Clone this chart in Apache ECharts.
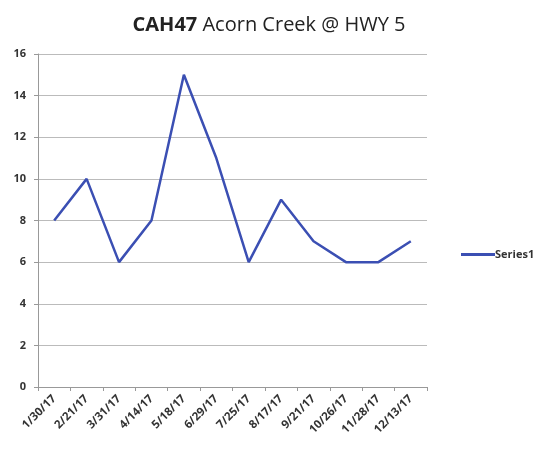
<!DOCTYPE html>
<html>
<head>
	<meta charset="UTF-8">
	<title></title>
	<script src="https://cdn.jsdelivr.net/npm/echarts@6/dist/echarts.min.js"></script>
	<style>
		html, body{
			width: 100%;
			height: 100%;
			padding: 0;
			margin: 0;
			background: #fff;
		}
		#main{
			width: 538px;
			height: 458px;
		}
	</style>
</head>
<body>
	<div id="main"></div>
</body>
<script>
	// 数据
	let dates = ['1/30/17', '2/21/17', '3/31/17', '4/14/17', '5/18/17', '6/29/17',
		'7/25/17', '8/17/17', '9/21/17', '10/26/17', '11/28/17', '12/13/17'];
	let series1 = [8, 10, 6, 8, 15, 11, 6, 9, 7, 6, 6, 7];
	let yTicks = [0, 2, 4, 6, 8, 10, 12, 14, 16];

	let myChart = echarts.init(document.getElementById('main'));

	myChart.setOption({
		animation: false,
		title: {
			text: '{b|CAH47} Acorn Creek @ HWY 5',
			left: 'center',
			top: 10,
			textStyle: {
				fontFamily: 'Open Sans',
				fontSize: 20,
				fontWeight: 'normal',
				color: '#222',
				rich: {
					b: {fontFamily: 'Open Sans', fontSize: 20, fontWeight: 'bold', color: '#222'}
				}
			}
		},
		legend: {
			data: ['Series1'],
			orient: 'vertical',
			left: 456,
			top: 244,
			itemWidth: 34,
			itemHeight: 3,
			icon: 'rect',
			itemGap: 4,
			textStyle: {fontFamily: 'Open Sans', fontSize: 11, fontWeight: 'bold', color: '#333', padding: [0, 0, 0, -5]}
		},
		grid: {
			left: 38,
			right: 111,
			top: 54,
			bottom: 71,
			containLabel: false
		},
		xAxis: {
			type: 'category',
			data: dates,
			boundaryGap: true,
			axisLine: {lineStyle: {color: '#999', width: 1}},
			axisTick: {show: true, alignWithLabel: false, length: 4, lineStyle: {color: '#999'}},
			axisLabel: {
				rotate: 45,
				interval: 0,
				fontFamily: 'Open Sans',
				fontSize: 11.5,
				fontWeight: 'bold',
				color: '#333',
				margin: 10
			}
		},
		yAxis: {
			type: 'value',
			min: yTicks[0],
			max: yTicks[yTicks.length - 1],
			interval: 2,
			axisLine: {show: true, lineStyle: {color: '#999'}},
			axisTick: {show: true, length: 4, inside: false, lineStyle: {color: '#999'}},
			splitLine: {lineStyle: {color: '#bbb', width: 1}},
			axisLabel: {
				fontFamily: 'Open Sans',
				fontSize: 11,
				fontWeight: 'bold',
				color: '#333',
				margin: 12
			}
		},
		series: [{
			name: 'Series1',
			type: 'line',
			data: series1,
			symbol: 'none',
			lineStyle: {color: '#3b4fb3', width: 2.5},
			itemStyle: {color: '#3b4fb3'}
		}]
	});
</script>
</html>
